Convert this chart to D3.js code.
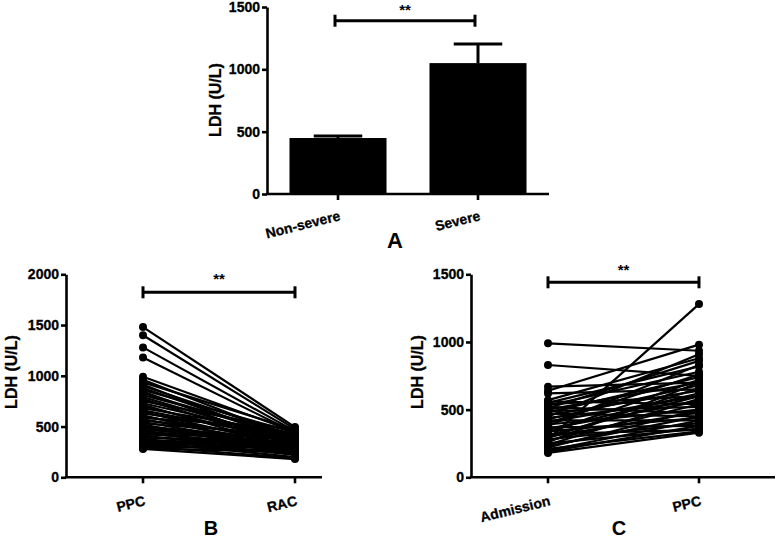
<!DOCTYPE html>
<html><head><meta charset="utf-8">
<script src="https://cdn.jsdelivr.net/npm/d3@7/dist/d3.min.js"></script>
<style>
html,body{margin:0;padding:0;background:#fff;}
text{font-family:"Liberation Sans",Arial,Helvetica,sans-serif;font-weight:bold;fill:#000;}
</style></head>
<body><svg id="chart" width="778" height="541"></svg>
<script>
// ---- Panel A data ----
const aCategories = ["Non-severe", "Severe"];
const aMeans = [449, 1050];
const aSEM = [16, 153];
const aTicks = [0, 500, 1000, 1500];

// ---- Panel B data (paired) ----
const bCategories = ["PPC", "RAC"];
const bPPC = [1480,1400,1280,1180,990,960,935,915,900,880,860,845,830,810,790,770,750,730,715,700,680,660,645,630,610,600,585,570,560,545,530,520,505,495,480,470,460,450,440,430,420,410,400,390,380,370,360,350,345,335,325,315,305,295,285,280];
const bRAC = [495,475,455,440,450,380,470,330,400,360,440,300,380,420,350,310,460,390,280,340,430,370,300,410,260,350,480,320,390,290,420,240,360,330,300,380,230,340,270,310,400,250,290,350,220,310,270,200,330,290,240,260,190,300,250,180];
const bTicks = [0, 500, 1000, 1500, 2000];

// ---- Panel C data (paired) ----
const cCategories = ["Admission", "PPC"];
const cAdmission = [990,830,280,670,640,620,570,560,550,540,530,520,510,500,490,480,470,460,450,440,430,420,410,400,390,380,370,360,350,340,330,320,310,300,290,280,270,260,250,240,230,220,210,200,190,180];
const cPPC = [935,750,1280,700,980,650,880,540,820,600,780,470,860,700,520,740,450,640,910,560,680,420,600,760,500,830,380,560,620,440,720,350,600,480,660,400,540,700,360,580,450,500,340,420,380,330];
const cTicks = [0, 500, 1000, 1500];

const svg = d3.select("#chart");
const AX_W = 2.6;
const FONT = '"Liberation Sans", Arial, sans-serif';

function yAxis(g, y, x0, ticks) {
  const ax = d3.axisLeft(y).tickValues(ticks).tickFormat(d3.format("d"))
    .tickSize(5).tickSizeOuter(0).tickPadding(2);
  const gg = g.append("g").attr("transform", `translate(${x0},0)`).call(ax);
  gg.attr("font-size", 14).attr("font-family", FONT).attr("font-weight", "bold");
  gg.select(".domain").attr("stroke-width", AX_W);
  gg.selectAll(".tick line").attr("stroke-width", AX_W);
  gg.selectAll(".tick text").style("font-size", "14px").style("font-weight", "bold")
    .attr("stroke", "#000").attr("stroke-width", 0.3);
}
function xAxis(g, xs, cats, x0, x1, y0, labelY) {
  g.append("line").attr("x1", x0 - 1).attr("x2", x1).attr("y1", y0).attr("y2", y0)
    .attr("stroke", "#000").attr("stroke-width", AX_W);
  cats.forEach(c => {
    const cx = xs(c);
    g.append("line").attr("x1", cx).attr("x2", cx).attr("y1", y0).attr("y2", y0 + 6)
      .attr("stroke", "#000").attr("stroke-width", AX_W);
    g.append("text").attr("transform", `translate(${cx + 3},${labelY}) rotate(-14)`)
      .attr("text-anchor", "end").style("font-size", "14px")
      .attr("stroke", "#000").attr("stroke-width", 0.3).text(c);
  });
}
function yLabel(g, x, y) {
  g.append("text").attr("transform", `translate(${x},${y}) rotate(-90)`)
    .attr("text-anchor", "middle").style("font-size", "16px")
    .attr("stroke", "#000").attr("stroke-width", 0.3).text("LDH (U/L)");
}
function sigBar(g, xa, xb, y, starY) {
  g.append("line").attr("x1", xa).attr("x2", xb).attr("y1", y).attr("y2", y)
    .attr("stroke", "#000").attr("stroke-width", 3);
  [xa, xb].forEach(x => g.append("line").attr("x1", x).attr("x2", x)
    .attr("y1", y - 6).attr("y2", y + 6).attr("stroke", "#000").attr("stroke-width", 3));
  g.append("text").attr("x", (xa + xb) / 2).attr("y", starY).attr("text-anchor", "middle")
    .style("font-size", "15px").text("**");
}
function panelLetter(g, t, x, y, size) {
  g.append("text").attr("x", x).attr("y", y).attr("text-anchor", "middle")
    .style("font-size", size + "px").text(t);
}

// ---- Panel A ----
{
  const g = svg.append("g");
  const y = d3.scaleLinear().domain([0, 1500]).range([194, 7]);
  const x = d3.scaleBand().domain(aCategories).range([268, 548]).paddingInner(0.307).paddingOuter(0.1535);
  aCategories.forEach((c, i) => {
    const cx = x(c) + x.bandwidth() / 2;
    const top = y(aMeans[i] + aSEM[i]);
    g.append("line").attr("x1", cx).attr("x2", cx).attr("y1", y(aMeans[i])).attr("y2", top)
      .attr("stroke", "#000").attr("stroke-width", 3);
    g.append("line").attr("x1", cx - x.bandwidth() / 4).attr("x2", cx + x.bandwidth() / 4)
      .attr("y1", top).attr("y2", top).attr("stroke", "#000").attr("stroke-width", 3);
    g.append("rect").attr("x", x(c)).attr("width", x.bandwidth())
      .attr("y", y(aMeans[i])).attr("height", y(0) - y(aMeans[i])).attr("fill", "#000");
  });
  const xc = c => x(c) + x.bandwidth() / 2;
  yAxis(g, y, 267, aTicks);
  xAxis(g, xc, aCategories, 267, 549, 194, 220);
  yLabel(g, 221, 100);
  sigBar(g, xc(aCategories[0]) - 3, xc(aCategories[1]) - 3, 20.7, 15);
  panelLetter(g, "A", 395, 248, 22);
}

function pairedPanel(cats, v1, v2, yMax, ticks, yAxisX, px0, px1, axisEnd, sigY, starY, labelX, letter, letterX) {
  const g = svg.append("g");
  const y = d3.scaleLinear().domain([0, yMax]).range([477.3, 274.3]);
  const x = d3.scalePoint().domain(cats).range([px0, px1]);
  const pairs = v1.map((v, i) => [v, v2[i]]);
  g.selectAll("line.pair").data(pairs).join("line").attr("class", "pair")
    .attr("x1", x(cats[0])).attr("x2", x(cats[1]))
    .attr("y1", d => y(d[0])).attr("y2", d => y(d[1]))
    .attr("stroke", "#000").attr("stroke-width", 2.2);
  g.selectAll("circle.p1").data(v1).join("circle").attr("class", "p1")
    .attr("cx", x(cats[0])).attr("cy", d => y(d)).attr("r", 4).attr("fill", "#000");
  g.selectAll("circle.p2").data(v2).join("circle").attr("class", "p2")
    .attr("cx", x(cats[1])).attr("cy", d => y(d)).attr("r", 4).attr("fill", "#000");
  yAxis(g, y, yAxisX, ticks);
  xAxis(g, c => x(c), cats, yAxisX, axisEnd, 477.3, 505);
  yLabel(g, labelX, 372);
  sigBar(g, x(cats[0]), x(cats[1]), sigY, starY);
  panelLetter(g, letter, letterX, 535, 20);
}

pairedPanel(bCategories, bPPC, bRAC, 2000, bTicks, 66, 143, 295, 322, 292.3, 284, 17, "B", 211);
pairedPanel(cCategories, cAdmission, cPPC, 1500, cTicks, 471, 548, 699, 775, 282.3, 275, 423, "C", 619);
</script></body></html>
